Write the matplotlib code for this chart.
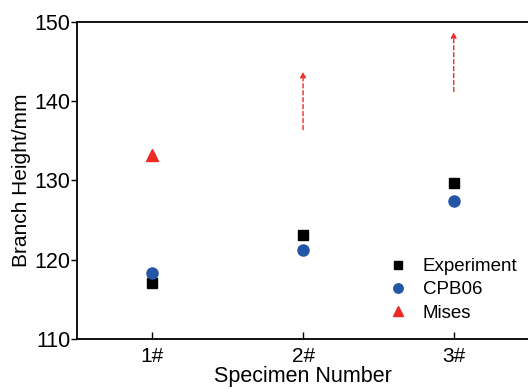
import numpy as np
import matplotlib.pyplot as plt

plt.rcParams['font.family'] = ['Liberation Sans', 'DejaVu Sans']

# specimen positions and tick labels
specimen = [1, 2, 3]
ticklabels = ['1#', '2#', '3#']

# branch heights (mm)
experiment = [117.0, 123.1, 129.6]
cpb06 = [118.3, 121.2, 127.4]
mises_x = [1]
mises = [133.2]

# Mises prediction runs above the range for 2# and 3#: dashed arrows
arrow_x = [2, 3]
arrow_start = [136.4, 141.2]
arrow_end = [143.7, 148.7]

fig = plt.figure(figsize=(5.28, 3.89), dpi=100)
ax = fig.add_axes([0.146, 0.129, 0.856, 0.815])

ax.plot(specimen, experiment, 's', color='black', ms=7, label='Experiment')
ax.plot(specimen, cpb06, 'o', color='#2456a8', ms=8, label='CPB06')
ax.plot(mises_x, mises, '^', color='#ee2a24', ms=8.5, label='Mises')

for x, y0, y1 in zip(arrow_x, arrow_start, arrow_end):
    ax.annotate('', xy=(x, y1), xytext=(x, y0),
                arrowprops=dict(arrowstyle='-|>', color='#ee2a24', lw=1,
                                linestyle=(0, (3, 2)), mutation_scale=8,
                                shrinkA=0, shrinkB=0))

ax.set_xlim(0.5, 3.5)
ax.set_ylim(110, 150)
ax.set_xticks(specimen)
ax.set_xticklabels(ticklabels)
ax.set_yticks([110, 120, 130, 140, 150])
ax.tick_params(axis='x', direction='in', length=5, width=1, labelsize=15, pad=6)
ax.tick_params(axis='y', direction='out', length=4, width=1, labelsize=15.5, pad=1)
for s in ax.spines.values():
    s.set_linewidth(1.3)
ax.spines['right'].set_visible(False)

ax.set_xlabel('Specimen Number', fontsize=15.5, labelpad=0)
ax.set_ylabel('Branch Height/mm', fontsize=15, labelpad=2)

ax.legend(loc='upper left', bbox_to_anchor=(0.689, 0.255), frameon=False,
          fontsize=13.5, handlelength=1.0, handletextpad=0.83,
          labelspacing=0.33, borderpad=0, borderaxespad=0, markerscale=0.85)

fig.savefig('out.png', dpi=100)
